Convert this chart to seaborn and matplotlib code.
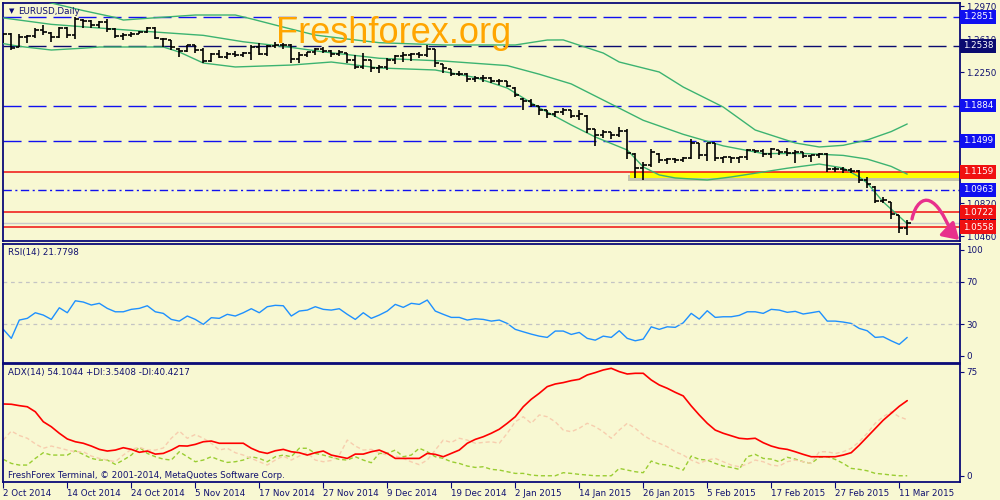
import numpy as np
import matplotlib
matplotlib.use('Agg')
import matplotlib.pyplot as plt
import matplotlib.transforms as mtransforms
import matplotlib.patheffects as pe
from matplotlib.patches import Rectangle, FancyArrowPatch
from matplotlib.path import Path
import seaborn as sns

sns.set_style('white')
plt.rcParams['font.family'] = ['DejaVu Sans']

# daily EURUSD bars, 2 Oct 2014 - 12 Mar 2015
opens = [1.2620, 1.2668, 1.2525, 1.2630, 1.2645, 1.2712, 1.2680, 1.2628, 1.2735, 1.2655,
         1.2820, 1.2810, 1.2760, 1.2795, 1.2715, 1.2645, 1.2650, 1.2670, 1.2690, 1.2730,
         1.2615, 1.2595, 1.2505, 1.2480, 1.2540, 1.2485, 1.2375, 1.2450, 1.2415, 1.2450,
         1.2440, 1.2460, 1.2525, 1.2450, 1.2530, 1.2545, 1.2540, 1.2390, 1.2440, 1.2465,
         1.2500, 1.2480, 1.2450, 1.2455, 1.2380, 1.2310, 1.2380, 1.2290, 1.2300, 1.2380,
         1.2420, 1.2440, 1.2450, 1.2440, 1.2500, 1.2335, 1.2280, 1.2230, 1.2230, 1.2170,
         1.2190, 1.2180, 1.2150, 1.2150, 1.2080, 1.1960, 1.1935, 1.1875, 1.1830, 1.1790,
         1.1815, 1.1835, 1.1770, 1.1775, 1.1625, 1.1565, 1.1595, 1.1560, 1.1610, 1.1360,
         1.1200, 1.1240, 1.1360, 1.1290, 1.1305, 1.1290, 1.1315, 1.1470, 1.1340, 1.1470,
         1.1315, 1.1320, 1.1310, 1.1320, 1.1395, 1.1390, 1.1360, 1.1395, 1.1380, 1.1370,
         1.1375, 1.1330, 1.1340, 1.1350, 1.1195, 1.1195, 1.1185, 1.1170, 1.1075, 1.1000,
         1.0840, 1.0830, 1.0685, 1.0550]
highs = [1.2675, 1.2675, 1.2665, 1.2653, 1.2730, 1.2763, 1.2686, 1.2741, 1.2741, 1.2850,
         1.2828, 1.2817, 1.2806, 1.2828, 1.2730, 1.2675, 1.2686, 1.2697, 1.2741, 1.2741,
         1.2621, 1.2599, 1.2512, 1.2545, 1.2545, 1.2512, 1.2457, 1.2490, 1.2468, 1.2479,
         1.2468, 1.2545, 1.2566, 1.2545, 1.2577, 1.2566, 1.2555, 1.2468, 1.2468, 1.2512,
         1.2523, 1.2490, 1.2490, 1.2457, 1.2435, 1.2457, 1.2381, 1.2326, 1.2403, 1.2435,
         1.2468, 1.2457, 1.2468, 1.2545, 1.2501, 1.2337, 1.2283, 1.2261, 1.2239, 1.2206,
         1.2217, 1.2196, 1.2174, 1.2152, 1.2086, 1.1966, 1.1955, 1.1879, 1.1835, 1.1825,
         1.1857, 1.1835, 1.1835, 1.1781, 1.1628, 1.1617, 1.1596, 1.1650, 1.1628, 1.1366,
         1.1268, 1.1410, 1.1366, 1.1312, 1.1312, 1.1323, 1.1519, 1.1476, 1.1476, 1.1476,
         1.1323, 1.1323, 1.1323, 1.1410, 1.1399, 1.1410, 1.1421, 1.1399, 1.1421, 1.1399,
         1.1377, 1.1345, 1.1366, 1.1366, 1.1214, 1.1214, 1.1203, 1.1181, 1.1105, 1.1006,
         1.0886, 1.0832, 1.0690, 1.0635]
lows = [1.2566, 1.2490, 1.2523, 1.2566, 1.2621, 1.2653, 1.2577, 1.2621, 1.2621, 1.2610,
        1.2730, 1.2730, 1.2730, 1.2686, 1.2621, 1.2599, 1.2632, 1.2664, 1.2675, 1.2610,
        1.2523, 1.2490, 1.2414, 1.2468, 1.2457, 1.2348, 1.2359, 1.2403, 1.2392, 1.2414,
        1.2414, 1.2381, 1.2435, 1.2425, 1.2512, 1.2501, 1.2348, 1.2348, 1.2414, 1.2435,
        1.2457, 1.2414, 1.2425, 1.2348, 1.2283, 1.2283, 1.2250, 1.2239, 1.2272, 1.2337,
        1.2359, 1.2370, 1.2403, 1.2414, 1.2305, 1.2239, 1.2206, 1.2206, 1.2141, 1.2141,
        1.2141, 1.2130, 1.2108, 1.2086, 1.1977, 1.1835, 1.1868, 1.1781, 1.1748, 1.1759,
        1.1781, 1.1748, 1.1726, 1.1585, 1.1443, 1.1530, 1.1519, 1.1541, 1.1301, 1.1094,
        1.1072, 1.1214, 1.1257, 1.1246, 1.1257, 1.1268, 1.1301, 1.1301, 1.1279, 1.1279,
        1.1257, 1.1257, 1.1257, 1.1290, 1.1366, 1.1323, 1.1312, 1.1345, 1.1334, 1.1257,
        1.1312, 1.1268, 1.1312, 1.1159, 1.1159, 1.1148, 1.1148, 1.1039, 1.0985, 1.0821,
        1.0821, 1.0646, 1.0495, 1.0472]
closes = [1.2668, 1.2515, 1.2630, 1.2645, 1.2712, 1.2690, 1.2628, 1.2735, 1.2655, 1.2830,
          1.2810, 1.2760, 1.2795, 1.2715, 1.2645, 1.2650, 1.2670, 1.2690, 1.2730, 1.2625,
          1.2610, 1.2525, 1.2480, 1.2540, 1.2485, 1.2375, 1.2450, 1.2415, 1.2450, 1.2440,
          1.2460, 1.2525, 1.2450, 1.2530, 1.2545, 1.2540, 1.2390, 1.2440, 1.2465, 1.2500,
          1.2480, 1.2450, 1.2465, 1.2380, 1.2310, 1.2380, 1.2290, 1.2300, 1.2380, 1.2420,
          1.2440, 1.2450, 1.2440, 1.2500, 1.2345, 1.2290, 1.2230, 1.2230, 1.2170, 1.2190,
          1.2180, 1.2150, 1.2150, 1.2095, 1.2000, 1.1935, 1.1890, 1.1840, 1.1790, 1.1815,
          1.1835, 1.1770, 1.1790, 1.1630, 1.1565, 1.1600, 1.1560, 1.1610, 1.1370, 1.1200,
          1.1240, 1.1380, 1.1290, 1.1305, 1.1290, 1.1315, 1.1480, 1.1340, 1.1470, 1.1315,
          1.1320, 1.1310, 1.1320, 1.1395, 1.1390, 1.1360, 1.1410, 1.1380, 1.1370, 1.1380,
          1.1330, 1.1340, 1.1350, 1.1195, 1.1195, 1.1185, 1.1170, 1.1075, 1.1030, 1.0840,
          1.0850, 1.0700, 1.0550, 1.0605]

# Bollinger bands (20), read at sample bars
bb_up_x = [0, 6, 10, 14, 15, 17, 24, 29, 31, 35, 39, 43, 47, 55, 64, 68, 70, 75, 77,
           82, 85, 90, 94, 99, 102, 105, 108, 111, 113]
bb_up = [1.3130, 1.3003, 1.2920, 1.2845, 1.2817, 1.2830, 1.2872, 1.2872, 1.2830, 1.2740,
         1.2653, 1.2610, 1.2570, 1.2545, 1.2545, 1.2599, 1.2600, 1.2457, 1.2359,
         1.2250, 1.2086, 1.1868, 1.1617, 1.1476, 1.1432, 1.1450, 1.1508, 1.1600, 1.1683]
bb_mid_x = [0, 6, 12, 20, 25, 30, 35, 40, 47, 55, 63, 67, 71, 76, 80, 85, 90, 95, 100,
            105, 108, 111, 113]
bb_mid = [1.2840, 1.2770, 1.2730, 1.2680, 1.2650, 1.2580, 1.2530, 1.2470, 1.2400, 1.2370,
          1.2320, 1.2226, 1.2120, 1.1900, 1.1723, 1.1570, 1.1444, 1.1360, 1.1361,
          1.1340, 1.1300, 1.1220, 1.1136]
bb_lo_x = [0, 2, 6, 10, 12, 20, 22, 25, 29, 36, 41, 47, 54, 59, 63, 67, 71, 74, 78, 80,
           82, 84, 88, 91, 95, 98, 102, 105, 107, 108, 110, 113]
bb_lo = [1.2560, 1.2530, 1.2490, 1.2510, 1.2523, 1.2523, 1.2468, 1.2348, 1.2305, 1.2326,
         1.2359, 1.2294, 1.2272, 1.2190, 1.2075, 1.1860, 1.1672, 1.1541, 1.1399, 1.1214,
         1.1127, 1.1094, 1.1072, 1.1105, 1.1159, 1.1200, 1.1246, 1.1203, 1.1105, 1.1039,
         1.0832, 1.0595]

rsi = [25, 16.5, 33.8, 35.4, 40.7, 38.5, 34.4, 45.4, 40.7, 52, 50.8, 48, 49.6, 44.8,
       41.6, 41.6, 43.9, 44.8, 47.3, 41.6, 40.1, 34.4, 32.8, 37.6, 34.4, 29.7, 36, 35.4,
       39.2, 37.6, 40.7, 44.5, 40.7, 46.4, 47.7, 47.3, 37.6, 42.3, 43.2, 46.4, 43.9, 43.2,
       44.5, 39.2, 34.4, 40.7, 35.4, 38.5, 42.3, 48.6, 45.8, 49.6, 48.6, 52.7, 42.3, 39.2,
       36.3, 36.3, 33.8, 35, 34.4, 32.8, 33.8, 30.6, 25, 22.7, 20.5, 18.6, 17.4, 23.4,
       23.4, 20.2, 22.1, 16.5, 14.8, 18.6, 17.4, 23.7, 16.5, 14.2, 15.8, 27.4, 25, 27.4,
       26.9, 31.2, 40.1, 34.7, 42.6, 36.3, 36.9, 36.9, 38.2, 41.6, 41.6, 40.1, 43.9, 43.2,
       41.1, 42, 39.5, 40.7, 42, 32.8, 32.8, 31.9, 30.6, 25.9, 23.7, 17.4, 18, 14.2, 10.8,
       17.4]
adx = [51.7, 51.5, 50.5, 49.7, 46.1, 38.9, 35.3, 30.6, 26.5, 24.5, 23.4, 21.4, 19, 17.8,
       18.5, 20.2, 19, 16.9, 17.8, 15.6, 16.1, 18.5, 21.6, 21.4, 22.6, 24.5, 25, 23.4, 23.4,
       23.4, 23.4, 19.8, 17.3, 16.1, 18, 19, 17.3, 16.6, 14.9, 16.6, 17.8, 14.9, 13.7, 12.5,
       15.6, 15.6, 17.3, 18.5, 16.1, 12.5, 12.5, 12.5, 12.5, 16.1, 15.4, 13.7, 16.1, 18.5,
       23.4, 26.2, 28.1, 30.6, 33.5, 37.8, 42.5, 49.7, 55.1, 59.4, 64.2, 66.1, 67.1, 68.5,
       69.5, 72.6, 74.3, 76.2, 77.4, 75, 73.3, 73.8, 73.8, 69, 65.4, 63, 60.1, 57.5, 50.3,
       43.8, 37.8, 32.9, 30.6, 28.8, 27, 26.5, 27, 23.8, 21.4, 19.8, 19, 17.3, 15.4, 13.7,
       13.7, 13.7, 13.7, 14.9, 16.6, 22, 28, 34, 40, 45, 50, 54.1]
plus_di = [11.8, 8.9, 7.7, 7.7, 12.5, 16.6, 14.9, 14.9, 14.9, 18, 15.4, 12.5, 11.3, 11.3,
           8.2, 11.3, 14.9, 20.5, 16.1, 13.7, 12, 11.3, 17.3, 13.7, 10.1, 11.3, 13.7, 11.3,
           9.6, 10.1, 11.3, 13.7, 12.5, 10.1, 13.7, 14.9, 13.7, 19.8, 19.8, 16.1, 14.9,
           13.3, 11.8, 11.3, 13.7, 11.3, 9.4, 16.1, 16.1, 18.5, 13.7, 14.9, 19.8, 17.3,
           13.7, 12.5, 10.1, 8.9, 7, 6, 6.5, 4.6, 4.1, 2.9, 1.7, 1.7, 0.5, 0, 0, 0, 2.2,
           1.7, 1, 0.5, 0, 0, 0, 5.3, 4.1, 2.9, 2.2, 10.6, 8.4, 7.7, 6, 4.1, 14.2, 11.8,
           11.3, 8.9, 7, 6, 4.6, 13.7, 15.4, 12.5, 12, 10.1, 13.3, 12, 10.1, 8.9, 13.3,
           13.7, 11.8, 8.9, 5.3, 4.6, 3.6, 1.7, 1.2, 0.5, 0, 0]
minus_di = [25.7, 32.2, 29, 27, 23, 19.8, 21.4, 20, 18.5, 17.3, 17.3, 14.2, 12.5, 11.3,
            10.1, 14.9, 19, 20.5, 18.5, 18.5, 20, 27, 32.2, 27, 29.7, 27, 23.4, 18.5, 19.8,
            16.6, 14.9, 12.5, 10.1, 7.7, 11.3, 14.2, 11.3, 14.2, 16.6, 11.3, 10.1, 11,
            14.9, 25.7, 21.4, 18.5, 19, 16.6, 14.9, 14.2, 12.5, 10, 8, 11.3, 18.5, 25.7,
            24, 27, 25.7, 23.4, 24, 24.5, 23.4, 30.6, 38.9, 42.5, 37.8, 43.8, 42.5, 38.9,
            32.9, 31.7, 34.2, 37.8, 35.3, 31.7, 27, 32.9, 37.8, 34.2, 29.3, 25.7, 23.4,
            20.9, 17.3, 14.9, 11.3, 8.9, 11.3, 12.5, 10.1, 7.7, 6.5, 8.4, 11.3, 10.1, 7.7,
            7, 10.1, 11.3, 10.1, 8.9, 17.3, 17.3, 16, 17.3, 19.8, 24.5, 30.6, 37.8, 42.5,
            46.1, 42.5, 40.4]

date_labels = ['2 Oct 2014', '14 Oct 2014', '24 Oct 2014', '5 Nov 2014', '17 Nov 2014',
               '27 Nov 2014', '9 Dec 2014', '19 Dec 2014', '2 Jan 2015', '14 Jan 2015',
               '26 Jan 2015', '5 Feb 2015', '17 Feb 2015', '27 Feb 2015', '11 Mar 2015']
price_ticks = [1.2970, 1.2610, 1.2250, 1.0820, 1.0460]

# horizontal levels: value, line colour, style
levels = [(1.2851, '#1010F0', 'dash'), (1.2538, '#0A0A70', 'dash'),
          (1.1884, '#1010F0', 'dash'), (1.1499, '#1010F0', 'dash'),
          (1.1159, '#F01010', 'solid'), (1.0963, '#1010F0', 'dashdot'),
          (1.0722, '#F01010', 'solid'), (1.0558, '#F01010', 'solid')]
bid = 1.0605
zone = (78.3, 1.1092, 1.1159)  # start bar, bottom, top
# forecast arrow (bar, price)
arrow_pts = [(113.6, 1.0646), (114.0, 1.0810), (115.0, 1.0875), (115.8, 1.0843),
             (116.8, 1.0810), (117.6, 1.0679), (118.3, 1.0548),
             (118.7, 1.0494), (119.1, 1.0450), (119.5, 1.0417)]

BG = '#F8F8D2'
NAVY = '#0A0A78'
TXT = '#101070'

fig = plt.figure(figsize=(10, 5), dpi=100, facecolor=BG)
ax = fig.add_axes([0.003, 0.518, 0.957, 0.476])
ax_rsi = fig.add_axes([0.003, 0.275, 0.957, 0.238], sharex=ax)
ax_adx = fig.add_axes([0.003, 0.036, 0.957, 0.236], sharex=ax)

for a in (ax, ax_rsi, ax_adx):
    a.set_facecolor(BG)
    for s in a.spines.values():
        s.set_color(NAVY)
        s.set_linewidth(1.3)
    a.yaxis.tick_right()
    a.tick_params(axis='y', direction='out', length=3, width=0.8, color=NAVY,
                  labelsize=6.3, labelcolor=TXT, pad=1.5)
    a.tick_params(axis='x', bottom=False, labelbottom=False)

x = np.arange(len(closes))

# yellow support zone with a soft shadow
rect = Rectangle((zone[0], zone[1]), 130 - zone[0], zone[2] - zone[1], fc='#FFFF00',
                 ec='none', zorder=1,
                 path_effects=[pe.SimplePatchShadow(offset=(-1.5, -2), shadow_rgbFace='#666666',
                                                    alpha=0.35), pe.Normal()])
ax.add_patch(rect)

# levels
for val, col, style in levels:
    if style == 'dash':
        ax.axhline(val, color=col, lw=1.0, dashes=(13, 5), zorder=2)
    elif style == 'dashdot':
        ax.axhline(val, color=col, lw=1.0, dashes=(6, 2.5, 1.5, 2.5), zorder=2)
    else:
        ax.axhline(val, color=col, lw=1.1, zorder=2)
ax.axhline(bid, color='#CACACA', lw=1.0, zorder=2)

# bollinger bands
for bx, by in ((bb_up_x, bb_up), (bb_mid_x, bb_mid), (bb_lo_x, bb_lo)):
    sns.lineplot(x=bx, y=by, ax=ax, color='#3CB371', lw=1.0, zorder=3)

# OHLC bars
ax.vlines(x, lows, highs, color='black', lw=1.2, zorder=4)
ax.hlines(opens, x - 0.42, x, color='black', lw=1.2, zorder=4)
ax.hlines(closes, x, x + 0.42, color='black', lw=1.2, zorder=4)

ax.set_ylim(1.0406, 1.3003)
ax.set_yticks(price_ticks)
ax.set_yticklabels([f'{v:.4f}' for v in price_ticks])

# price boxes on the right scale
trans = mtransforms.blended_transform_factory(ax.transAxes, ax.transData)
ax.text(1.003, bid, f'{bid:.4f}', transform=trans, fontsize=6.3, color='white',
        va='center', ha='left', clip_on=False, zorder=20,
        bbox=dict(boxstyle='square,pad=0.28', fc='#0A0A50', ec='none'))
for val, col, style in levels:
    ax.text(1.003, val, f'{val:.4f}', transform=trans, fontsize=6.3, color='white',
            va='center', ha='left', clip_on=False, zorder=21,
            bbox=dict(boxstyle='square,pad=0.28', fc=col, ec='none'))

# forecast arrow
codes = [Path.MOVETO] + [Path.CURVE4] * 9
arrow = FancyArrowPatch(path=Path(arrow_pts, codes),
                        arrowstyle='-|>,head_length=0.8,head_width=0.5',
                        color='#E8308C', lw=2.4, mutation_scale=12, clip_on=False, zorder=30)
ax.add_patch(arrow)

# RSI
sns.lineplot(x=x, y=rsi, ax=ax_rsi, color='#1E90FF', lw=1.0)
for lvl in (70, 30):
    ax_rsi.axhline(lvl, color='#C4C4C4', lw=0.9, dashes=(3, 3))
ax_rsi.set_ylim(-6.3, 106.1)
ax_rsi.set_yticks([0, 30, 70, 100])

# ADX with +DI / -DI
sns.lineplot(x=x, y=plus_di, ax=ax_adx, color='#9ACD32', lw=1.0)
ax_adx.lines[-1].set_dashes((3, 2))
sns.lineplot(x=x, y=minus_di, ax=ax_adx, color='#F7CDAE', lw=1.0)
ax_adx.lines[-1].set_dashes((3, 2))
sns.lineplot(x=x, y=adx, ax=ax_adx, color='#FF0000', lw=1.2)
ax_adx.set_ylim(-4.5, 80.5)
ax_adx.set_yticks([0, 75])

for a in (ax, ax_rsi, ax_adx):
    a.set_xlabel('')
    a.set_ylabel('')
ax.set_xlim(-0.04, 119.6)

ax_adx.tick_params(axis='x', bottom=True, labelbottom=True, direction='out', length=4,
                   width=0.8, color=NAVY, labelsize=6.3, labelcolor=TXT, pad=1)
ax_adx.set_xticks(np.arange(len(date_labels)) * 8)
ax_adx.set_xticklabels(date_labels, ha='left')

# texts
fig.text(0.009, 1 - 11 / 500, '\u25BC', fontsize=5, color=NAVY, va='center', ha='left')
fig.text(0.018, 1 - 11 / 500, 'EURUSD,Daily', fontsize=6.3, color=TXT, va='center', ha='left')
fig.text(0.008, 1 - 253 / 500, 'RSI(14) 21.7798', fontsize=6.3, color=TXT, va='center', ha='left')
fig.text(0.008, 1 - 373 / 500, 'ADX(14) 54.1044 +DI:3.5408 -DI:40.4217', fontsize=6.3,
         color=TXT, va='center', ha='left')
fig.text(0.008, 1 - 475 / 500, 'FreshForex Terminal, \u00A9 2001-2014, MetaQuotes Software Corp.',
         fontsize=6.3, color=TXT, va='center', ha='left')
fig.text(0.276, 1 - 43 / 500, 'Freshforex.org', fontsize=26, color='#FFA500',
         family='Liberation Sans', va='baseline', ha='left', zorder=40)

fig.savefig('out.png', dpi=100, facecolor=BG)
